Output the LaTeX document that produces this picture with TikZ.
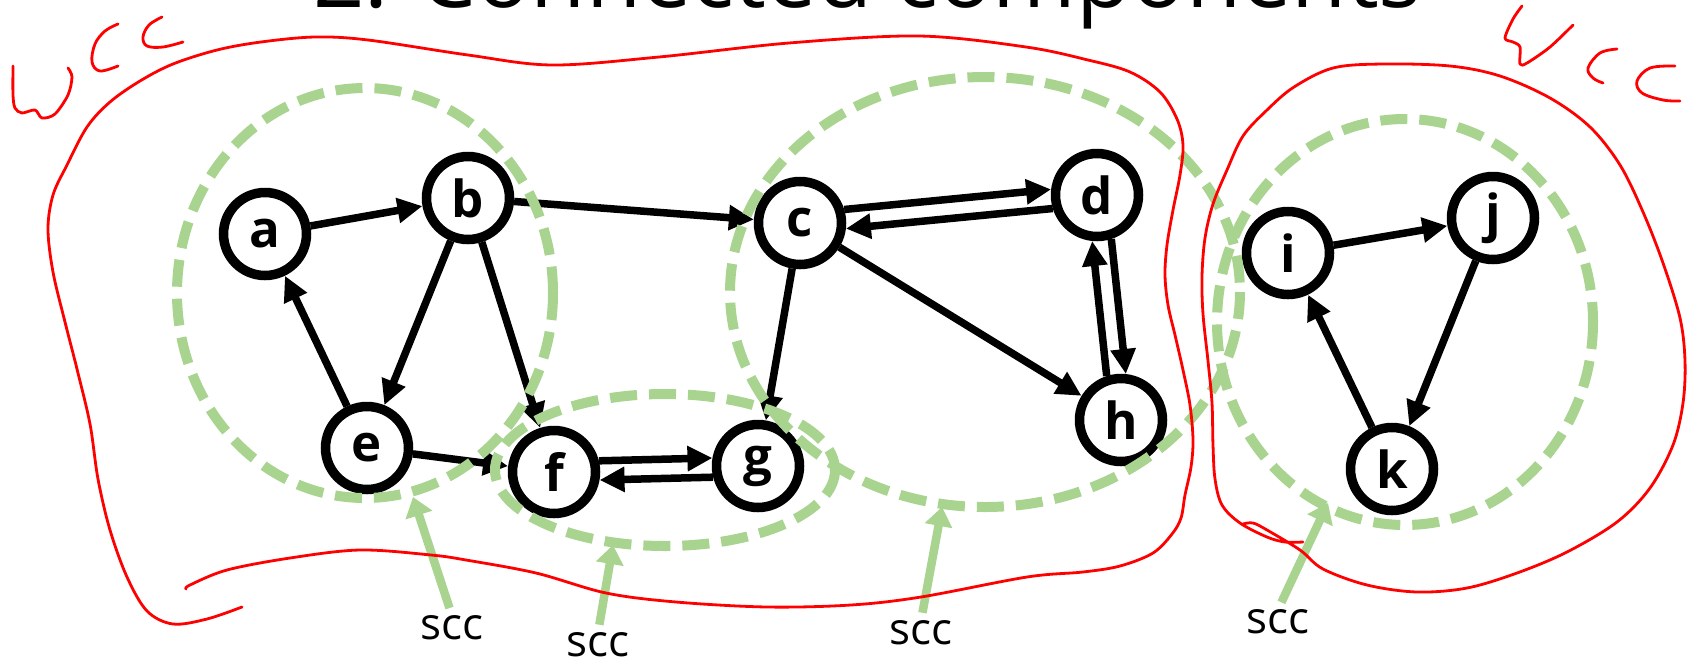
\documentclass[tikz,border=0pt]{standalone}
\usepackage{fontspec}
\setmainfont{Open Sans}
\usetikzlibrary{arrows.meta}
\definecolor{sccgreen}{RGB}{168,212,144}
\definecolor{inkred}{RGB}{255,0,0}

\begin{document}
\begin{tikzpicture}[x=1pt,y=-1pt,
  vertex/.style={circle, draw=black, line width=9.5pt, fill=white, minimum size=83pt,
    inner sep=0pt, font=\fontsize{51}{51}\selectfont\bfseries},
  edge/.style={line width=7.5pt, -{Triangle[length=25pt,width=24pt]}},
  sccring/.style={draw=sccgreen, line width=10pt, dash pattern=on 27pt off 12pt},
  pointer/.style={draw=sccgreen, line width=8.5pt, shorten <=8pt,
    -{Triangle[length=19pt,width=27pt]}},
  scctext/.style={inner sep=0pt, font=\fontsize{44}{44}\selectfont},
  ink/.style={draw=inkred, line width=2.8pt, line cap=round, line join=round}
]
\path[use as bounding box, clip] (0,0) rectangle (1692,665);
\fill[white] (0,0) rectangle (1692,665);

% title (runs off the top edge)
\node[anchor=base west, inner sep=0pt, font=\fontsize{90}{90}\selectfont] (title) at (313,7) {2. Connected components};

% vertices
\node[vertex] (a) at (265,234) {a};
\node[vertex] (b) at (468,198) {b};
\node[vertex] (c) at (800,223) {c};
\node[vertex] (d) at (1097,195) {d};
\node[vertex] (e) at (367,448) {e};
\node[vertex] (f) at (554,472) {f};
\node[vertex] (g) at (758,466) {g};
\node[vertex] (h) at (1121,420) {h};
\node[vertex] (i) at (1288,253) {i};
\node[vertex] (j) at (1493,218) {j};
\node[vertex] (k) at (1392,469) {k};

% directed edges
\draw[edge] (a) -- (b);
\draw[edge] (b) -- (c);
\draw[edge] (b) -- (e);
\draw[edge] (b) -- (f);
\draw[edge] (e) -- (a);
\draw[edge] (e) -- (f);
\draw[edge] (f.14) -- (g.170);
\draw[edge] (g.194) -- (f.350);
\draw[edge] (c.17) -- (d.173);
\draw[edge] (d.197) -- (c.353);
\draw[edge] (c) -- (g);
\draw[edge] (c) -- (h);
\draw[edge] (d.-72) -- (h.84);
\draw[edge] (h.108) -- (d.-96);
\draw[edge] (i) -- (j);
\draw[edge] (j) -- (k);
\draw[edge] (k) -- (i);

% strongly connected components
\draw[sccring] (365,293) ellipse [x radius=188, y radius=205];
\draw[sccring] (665,470) ellipse [x radius=170, y radius=76];
\draw[sccring] (985,292) ellipse [x radius=255, y radius=215];
\draw[sccring] (1405,322) ellipse [x radius=188, y radius=203];

% scc labels with pointers
\node[scctext] (s1) at (452,628) {scc};
\node[scctext] (s2) at (598,645) {scc};
\node[scctext] (s3) at (921,633) {scc};
\node[scctext] (s4) at (1278,622) {scc};
\coordinate (t1) at (413,497);
\coordinate (t2) at (613,545);
\coordinate (t3) at (942,507);
\coordinate (t4) at (1328,503);
\draw[pointer] (s1.north) -- (t1);
\draw[pointer] (s2.north) -- (t2);
\draw[pointer] (s3.north) -- (t3);
\draw[pointer] (s4.north) -- (t4);

% hand-drawn weakly connected components
\draw[ink] plot[smooth, tension=0.55] coordinates {
  (186,589) (190,585) (227,570) (290,558) (360,550) (431,555) (466,560)
  (536,573) (606,593) (676,602) (767,607) (851,605) (921,597) (1027,577)
  (1083,572) (1120,566) (1153,553) (1172,534) (1181,518) (1185,495)
  (1191,467) (1193,440) (1190,405) (1183,370) (1175,335) (1168,305)
  (1165,275) (1167,245) (1173,210) (1180,175) (1183,145) (1177,119)
  (1160,92) (1130,72) (1088,60) (1026,47) (919,36) (789,43) (659,57)
  (552,65) (468,55) (368,40) (315,37) (261,42) (217,50) (173,64) (140,81)
  (110,102) (87,127) (67,165) (53,195) (48,229) (53,272) (65,322) (77,369)
  (90,424) (98,479) (110,530) (127,577) (147,611) (173,624) (207,619) (242,607)};
\draw[ink] plot[smooth, tension=0.55] coordinates {
  (1303,542) (1285,542) (1267,537) (1240,523) (1222,505) (1215,479)
  (1213,445) (1212,403) (1208,361) (1203,314) (1202,276) (1205,238)
  (1213,204) (1227,170) (1243,136) (1267,110) (1294,87) (1333,68)
  (1383,64) (1450,66) (1500,76) (1550,98) (1590,127) (1620,165)
  (1643,212) (1663,263) (1680,318) (1685,361) (1683,403) (1673,445)
  (1650,488) (1617,522) (1567,552) (1517,573) (1467,588) (1417,592)
  (1367,585) (1323,569) (1300,550) (1267,530) (1253,523) (1243,524)};

% handwritten "wcc", left
\draw[ink] plot[smooth, tension=0.5] coordinates {
  (13,66) (13,95) (15,108) (22,113) (35,110) (42,118) (55,114) (68,95) (72,77) (68,68)};
\draw[ink] plot[smooth, tension=0.6] coordinates {
  (118,66) (100,71) (92,62) (95,44) (105,31) (118,24)};
\draw[ink] plot[smooth, tension=0.6] coordinates {
  (183,42) (163,47) (147,46) (143,37) (149,25) (162,17)};
% handwritten "wcc", right
\draw[ink] plot[smooth, tension=0.5] coordinates {
  (1522,6) (1513,19) (1505,38) (1513,42) (1520,47) (1520,64) (1527,63) (1550,47) (1573,25)};
\draw[ink] plot[smooth, tension=0.6] coordinates {
  (1617,49) (1600,53) (1588,68) (1593,78) (1603,83)};
\draw[ink] plot[smooth, tension=0.6] coordinates {
  (1675,66) (1650,68) (1637,81) (1642,93) (1663,100) (1680,101)};
\end{tikzpicture}
\end{document}
